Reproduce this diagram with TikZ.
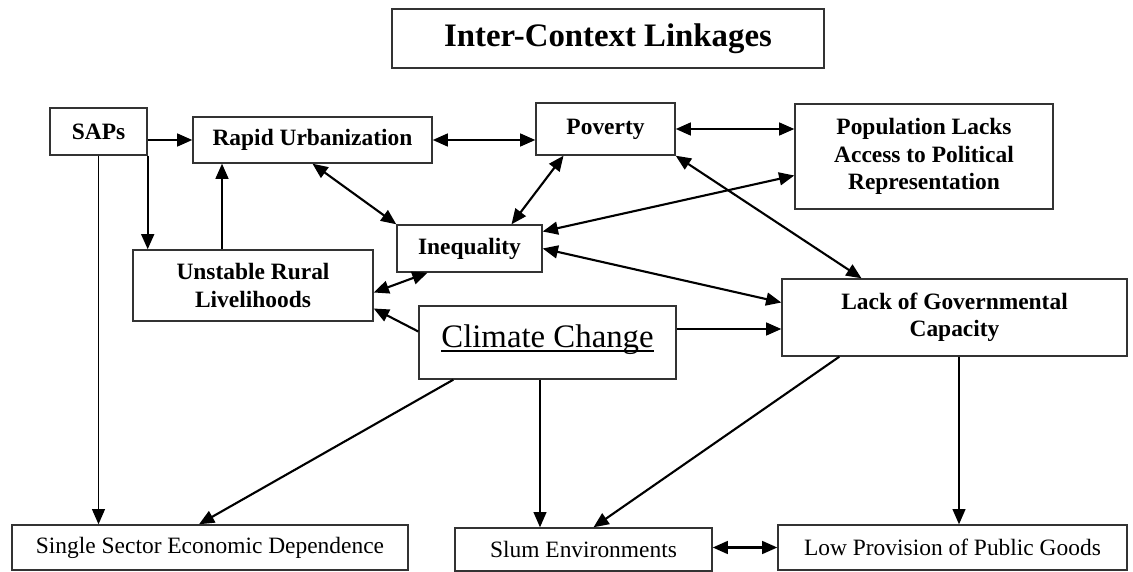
\documentclass[tikz,border=0pt]{standalone}
\usepackage{fontspec}
\setmainfont{Liberation Serif}
\usetikzlibrary{arrows.meta,calc}

\newcommand{\ulinetext}[1]{\setbox0\hbox{#1}\rlap{\rule[-4pt]{\wd0}{1.2pt}}\box0}

\tikzset{
	box/.style={draw=black!80, line width=1.2pt, inner sep=0pt, align=center, font=\fontsize{20}{23.5}\selectfont},
	bbox/.style={box, font=\fontsize{20}{23.5}\selectfont\bfseries},
	link/.style={-{Triangle[length=13pt,width=11pt]}, line width=1.8pt},
	both/.style={{Triangle[length=13pt,width=11pt]}-{Triangle[length=13pt,width=11pt]}, line width=1.8pt},
	slim/.style={line width=1.3pt}
}

\begin{document}
\begin{tikzpicture}[x=0.03cm, y=-0.03cm]
	\useasboundingbox (0,0) rectangle (1133,572);

	\node[bbox, font=\fontsize{28}{32}\selectfont\bfseries, minimum width=12.96cm, minimum height=1.77cm] (title) at (608,38.5) {Inter-Context Linkages};

	\node[bbox, minimum width=2.91cm, minimum height=1.41cm] (saps) at (98.5,131.5) {SAPs};
	\node[bbox, minimum width=7.17cm, minimum height=1.38cm] (urban) at (312.5,140) {Rapid Urbanization};
	\node[bbox, minimum width=4.17cm, minimum height=1.56cm] (poverty) at (605.5,129) {Poverty};
	\node[bbox, minimum width=7.74cm, minimum height=3.15cm] (access) at (924,156.5) {Population Lacks\\Access to Political\\Representation};
	\node[bbox, minimum width=4.35cm, minimum height=1.41cm] (inequality) at (469.5,248.5) {Inequality};
	\node[bbox, minimum width=7.2cm, minimum height=2.13cm] (rural) at (253,285.5) {Unstable Rural\\Livelihoods};
	\node[box, font=\fontsize{28}{32}\selectfont, text height=19.5pt, text depth=11.8pt, minimum width=7.71cm, minimum height=2.19cm] (climate) at (547.5,342.5) {\ulinetext{Climate Change}};
	\node[bbox, minimum width=10.35cm, minimum height=2.31cm] (capacity) at (954.5,317.5) {Lack of Governmental\\Capacity};

	\node[box, minimum width=11.88cm, minimum height=1.35cm] (single) at (210,547.5) {Single Sector Economic Dependence};
	\node[box, minimum width=7.71cm, minimum height=1.29cm] (slum) at (583.5,549.5) {Slum Environments};
	\node[box, minimum width=10.47cm, minimum height=1.35cm] (goods) at (952.5,547.5) {Low Provision of Public Goods};

	% one-way links
	\path[link] (saps.east |- urban.west) edge (urban.west);
	\path[link] (saps.south east) edge (saps.south east |- rural.north);
	\path[link,slim] (saps.south) edge (saps.south |- single.north);
	\path[link] ($(rural.north)+(-31,0)$) edge ($(urban.south)+(-90.5,0)$);
	\path[link] ($(climate.west)+(0,-11)$) edge ($(rural.east)+(0,23)$);
	\path[link] ($(climate.east)+(0,-13.5)$) edge ($(capacity.west)+(0,11.5)$);
	\path[link] ($(climate.south west)+(35,0)$) edge ($(single.north)+(-11,0)$);
	\path[link,slim] ($(climate.south)+(-7.5,0)$) edge ($(slum.north)+(-43.5,0)$);
	\path[link] ($(capacity.south west)+(58,0)$) edge ($(slum.north)+(10,0)$);
	\path[link,slim] ($(capacity.south)+(4.5,0)$) edge ($(goods.north)+(6.5,0)$);

	% two-way links
	\path[both] (urban.east) edge (poverty.west |- urban.east);
	\path[both] (urban.south) edge (inequality.north west);
	\path[both] ($(poverty.south)+(-42,0)$) edge ($(inequality.north)+(42,0)$);
	\path[both] (poverty.east) edge (access.west |- poverty.east);
	\path[both] ($(access.west)+(0,19)$) edge ($(inequality.east)+(0,-17)$);
	\path[both] (poverty.south east) edge ($(capacity.north)+(-93,0)$);
	\path[both] (inequality.east) edge ($(capacity.west)+(0,-15)$);
	\path[both] ($(inequality.south)+(-42,0)$) edge ($(rural.east)+(0,7)$);
	\path[both] (slum.east |- goods.west) edge (goods.west);
\end{tikzpicture}
\end{document}
